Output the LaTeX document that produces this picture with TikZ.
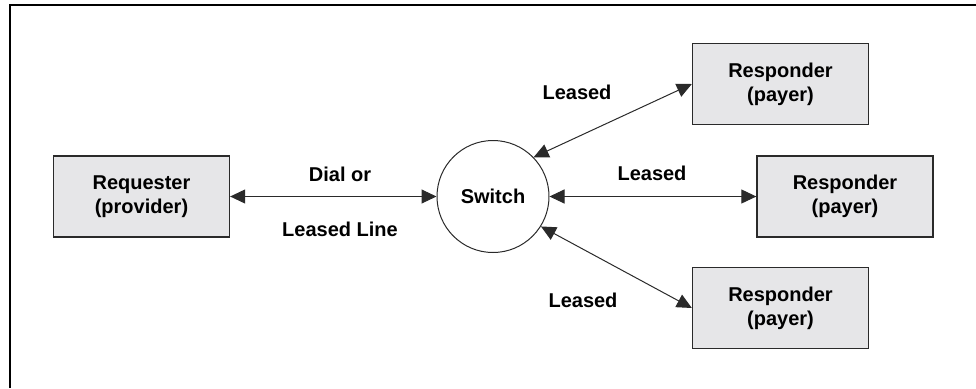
\documentclass[tikz,border=0pt]{standalone}
\usepackage{fontspec}
\setmainfont{Liberation Sans}
\usetikzlibrary{arrows.meta,calc}
\definecolor{boxfill}{HTML}{E6E6E8}
\definecolor{edge}{HTML}{2A2A2A}
\tikzset{
  lbl/.style={font=\fontsize{20bp}{24bp}\selectfont\bfseries, inner sep=0pt},
  party/.style={lbl, draw=edge, line width=1.3bp, fill=boxfill,
    minimum width=176bp, minimum height=81bp, align=center},
  hub/.style={lbl, draw=edge, line width=1bp, circle, minimum size=112bp},
  link/.style={draw=edge, line width=1bp,
    {Triangle[length=15bp,width=14bp]}-{Triangle[length=15bp,width=14bp]}}
}
\begin{document}
\begin{tikzpicture}[x=1bp,y=-1bp]
  \useasboundingbox (0,0) rectangle (976,388);
  % open frame: top and left rules only
  \draw[line width=2bp] (10,388) -- (10,5) -- (976,5);

  \node[party] (req) at (141.5,196.5) {Requester\\(provider)};
  \node[hub]   (sw)  at (493,196.5) {Switch};
  \node[party] (r1)  at (780.5,84) {Responder\\(payer)};
  \node[party] (r2)  at (845,196.5) {Responder\\(payer)};
  \node[party] (r3)  at (780.5,308) {Responder\\(payer)};

  \draw[link] (req.east) -- (sw.west);
  \draw[link] (sw.east) -- (r2.west);
  \draw[link] (sw.44) -- (r1.west);
  \draw[link] (sw.-32) -- (r3.west);

  \node[lbl] (l0a) at (340,174) {Dial or};
  \node[lbl] (l0b) at (340,229) {Leased Line};
  \node[lbl] (l1)  at (577,92)  {Leased};
  \node[lbl] (l2)  at (652,173) {Leased};
  \node[lbl] (l3)  at (583,300) {Leased};
\end{tikzpicture}
\end{document}
